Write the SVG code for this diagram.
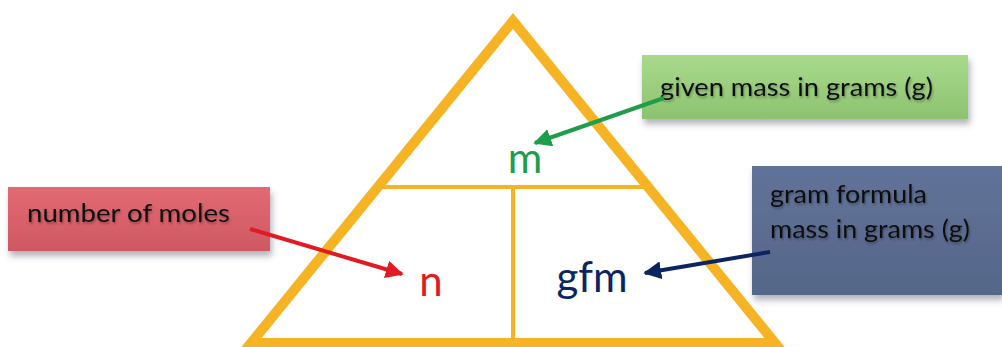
<svg xmlns="http://www.w3.org/2000/svg" width="1002" height="347" viewBox="0 0 1002 347">
<style>
.tri{fill:none;stroke:#f6b324;stroke-width:10;stroke-linejoin:miter}
.div{stroke:#f6b324;stroke-width:4;fill:none}
.box{filter:url(#sh)}
.lbl{font-family:Lato,"Liberation Sans",sans-serif;font-size:25px;fill:#111;filter:url(#ts)}
.sym{font-family:Lato,"Liberation Sans",sans-serif;font-size:42px}
.conn{stroke-width:4;fill:none}
</style>
<defs>
<filter id="sh" x="-10%" y="-20%" width="130%" height="160%">
<feDropShadow dx="2" dy="5" stdDeviation="3" flood-color="#556" flood-opacity="0.45"/>
</filter>
<filter id="ts" x="-5%" y="-30%" width="110%" height="170%">
<feDropShadow dx="1" dy="2" stdDeviation="1.2" flood-color="#000" flood-opacity="0.3"/>
</filter>
<linearGradient id="gg" x1="0" y1="0" x2="0" y2="1"><stop offset="0" stop-color="#a9da8c"/><stop offset="1" stop-color="#8cc26f"/></linearGradient>
<linearGradient id="rg" x1="0" y1="0" x2="0" y2="1"><stop offset="0" stop-color="#e26a73"/><stop offset="1" stop-color="#cf5862"/></linearGradient>
<linearGradient id="bg" x1="0" y1="0" x2="0" y2="1"><stop offset="0" stop-color="#62739a"/><stop offset="1" stop-color="#556688"/></linearGradient>
<marker id="ag" viewBox="0 0 10 10" refX="9" refY="5" markerWidth="4.5" markerHeight="4.5" orient="auto" markerUnits="strokeWidth"><path d="M0,0 L10,5 L0,10 z" fill="#1e9e4a"/></marker>
<marker id="ar" viewBox="0 0 10 10" refX="9" refY="5" markerWidth="4.5" markerHeight="4.5" orient="auto" markerUnits="strokeWidth"><path d="M0,0 L10,5 L0,10 z" fill="#e01b24"/></marker>
<marker id="ab" viewBox="0 0 10 10" refX="9" refY="5" markerWidth="4.5" markerHeight="4.5" orient="auto" markerUnits="strokeWidth"><path d="M0,0 L10,5 L0,10 z" fill="#0c2560"/></marker>
</defs>
<rect width="1002" height="347" fill="#fff"/>
<g id="triangle">
<polygon class="tri" points="513,21 251,343 775,343"/>
<line class="div" x1="380" y1="187" x2="646" y2="187"/>
<line class="div" x1="513" y1="187" x2="513" y2="340"/>
</g>
<g id="node-m"><text class="sym" x="525" y="173" text-anchor="middle" fill="#1e9e4a">m</text></g>
<g id="node-n"><text class="sym" x="431" y="296" text-anchor="middle" fill="#e01b24">n</text></g>
<g id="node-gfm"><text class="sym" x="592" y="292" text-anchor="middle" fill="#0c2560">gfm</text></g>
<g id="box-given">
<rect class="box" x="642" y="55" width="326" height="64" fill="url(#gg)"/>
<text class="lbl" x="660" y="96" textLength="273" lengthAdjust="spacingAndGlyphs">given mass in grams (g)</text>
</g>
<g id="box-moles">
<rect class="box" x="8" y="187" width="262" height="64" fill="url(#rg)"/>
<text class="lbl" x="27" y="222" textLength="203" lengthAdjust="spacingAndGlyphs">number of moles</text>
</g>
<g id="box-gfm">
<rect class="box" x="752" y="166" width="250" height="129" fill="url(#bg)"/>
<text class="lbl" x="770" y="203" textLength="157" lengthAdjust="spacingAndGlyphs">gram formula</text>
<text class="lbl" x="770" y="238" textLength="200" lengthAdjust="spacingAndGlyphs">mass in grams (g)</text>
</g>
<g id="connectors">
<line class="conn" x1="664" y1="98" x2="535" y2="143" stroke="#1e9e4a" marker-end="url(#ag)"/>
<line class="conn" x1="250" y1="229" x2="402" y2="274" stroke="#e01b24" marker-end="url(#ar)"/>
<line class="conn" x1="770" y1="252" x2="645" y2="273" stroke="#0c2560" marker-end="url(#ab)"/>
</g>
</svg>
